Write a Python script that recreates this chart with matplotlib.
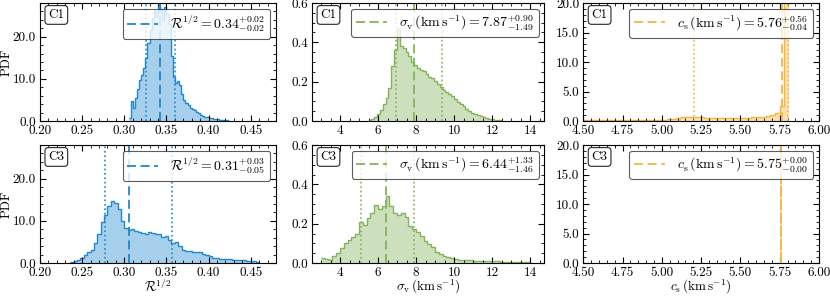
import numpy as np
import matplotlib
matplotlib.use("Agg")
import matplotlib.pyplot as plt
from matplotlib.ticker import MultipleLocator, FormatStrFormatter

plt.rcParams["font.family"] = "serif"
plt.rcParams["font.serif"] = ["cmr10", "DejaVu Serif"]
plt.rcParams["mathtext.fontset"] = "cm"
plt.rcParams["axes.formatter.use_mathtext"] = True
plt.rcParams["font.size"] = 9.5

# --- data ---
# R^(1/2), cloud C1
r_c1_edges = np.round(np.arange(0.305, 0.4251, 0.0025), 4)
r_c1_pdf = [0.8, 4.8, 3.0, 5.5, 7.5, 9.8, 11.0, 12.5, 15.0, 18.5, 21.5, 24.5,
            26.0, 25.0, 27.5, 26.5, 24.0, 27.0, 25.5, 23.0, 15.5, 10.5, 9.0, 9.6,
            8.5, 6.5, 5.0, 4.2, 3.8, 3.2, 2.9, 2.6, 2.2, 1.8, 1.4, 1.3,
            1.0, 0.9, 0.8, 0.7, 0.5, 0.5, 0.4, 0.3, 0.3, 0.2, 0.15, 0.1]
r_c1_stats = [0.342, 0.326, 0.360]  # median, low, high

# R^(1/2), cloud C3
r_c3_edges = np.round(np.arange(0.236, 0.4601, 0.004), 4)
r_c3_pdf = [0.3, 0.5, 0.7, 1.2, 2.0, 2.6, 3.1, 4.8, 7.0, 9.8, 11.5, 13.6,
            14.7, 14.2, 12.8, 10.0, 8.3, 7.9, 8.0, 7.7, 7.4, 7.1, 6.8, 7.4,
            7.2, 6.9, 7.0, 6.1, 6.4, 5.5, 4.8, 5.0, 4.0, 3.0, 2.9, 2.9,
            2.7, 2.6, 2.5, 2.2, 1.9, 1.6, 1.3, 1.1, 1.0, 0.95, 0.9, 0.85,
            0.8, 0.7, 0.6, 0.6, 0.5, 0.45, 0.4, 0.3]
r_c3_stats = [0.306, 0.2775, 0.3565]

# sigma_v, cloud C1
sv_c1_edges = np.round(np.arange(5.5, 12.551, 0.15), 3)
sv_c1_pdf = [0.003, 0.008, 0.02, 0.035, 0.056, 0.085, 0.115, 0.17, 0.28, 0.36,
             0.47, 0.38, 0.37, 0.35, 0.33, 0.30, 0.285, 0.27, 0.26, 0.255,
             0.24, 0.225, 0.22, 0.205, 0.19, 0.175, 0.16, 0.145, 0.135, 0.125,
             0.11, 0.095, 0.085, 0.075, 0.06, 0.05, 0.042, 0.035, 0.03, 0.025,
             0.018, 0.014, 0.011, 0.009, 0.007, 0.005, 0.004]
sv_c1_stats = [7.87, 6.97, 9.36]

# sigma_v, cloud C3
sv_c3_edges = np.round(np.arange(3.0, 14.01, 0.2), 2)
sv_c3_pdf = [0.024, 0.022, 0.015, 0.035, 0.05, 0.075, 0.1, 0.115, 0.132, 0.15,
             0.21, 0.195, 0.228, 0.255, 0.293, 0.275, 0.29, 0.34, 0.29, 0.255,
             0.245, 0.253, 0.232, 0.19, 0.175, 0.16, 0.135, 0.11, 0.095, 0.08,
             0.058, 0.045, 0.038, 0.03, 0.024, 0.02, 0.017, 0.015, 0.014, 0.013,
             0.012, 0.012, 0.011, 0.01, 0.009, 0.008, 0.008, 0.007, 0.006, 0.005,
             0.005, 0.004, 0.004, 0.003, 0.003]
sv_c3_stats = [6.44, 5.11, 7.90]

# c_s, cloud C1
cs_c1_edges = np.round(np.arange(4.49, 5.811, 0.03), 3)
cs_c1_pdf = [0.1, 0.1, 0.1, 0.1, 0.12, 0.12, 0.12, 0.12, 0.13, 0.13, 0.14,
             0.14, 0.15, 0.15, 0.16, 0.17, 0.2, 0.22, 0.3, 0.4, 0.5, 0.6,
             0.7, 0.68, 0.62, 0.6, 0.58, 0.55, 0.5, 0.48, 0.47, 0.48, 0.5,
             0.5, 0.52, 0.55, 0.6, 0.65, 0.75, 0.85, 1.0, 1.4, 2.5, 30.0]
cs_c1_stats = [5.767, 5.205, 5.80]

# c_s, cloud C3 (all mass in one narrow bin)
cs_c3_edges = [5.752, 5.764]
cs_c3_pdf = [60.0]
cs_c3_stats = [5.758, 5.758, 5.758]

blue = "#1f88cf"
green = "#84b35b"
orange = "#f5b540"

panels = [
    # row, col, edges, pdf, stats, colour, cloud, legend label
    (0, 0, r_c1_edges, r_c1_pdf, r_c1_stats, blue, "C1",
     r"$\mathcal{R}^{1/2} = 0.34^{+0.02}_{-0.02}$"),
    (0, 1, sv_c1_edges, sv_c1_pdf, sv_c1_stats, green, "C1",
     r"$\sigma_{\rm v}\,(\mathrm{km\,s^{-1}}) = 7.87^{+0.90}_{-1.49}$"),
    (0, 2, cs_c1_edges, cs_c1_pdf, cs_c1_stats, orange, "C1",
     r"$c_{\rm s}\,(\mathrm{km\,s^{-1}}) = 5.76^{+0.56}_{-0.04}$"),
    (1, 0, r_c3_edges, r_c3_pdf, r_c3_stats, blue, "C3",
     r"$\mathcal{R}^{1/2} = 0.31^{+0.03}_{-0.05}$"),
    (1, 1, sv_c3_edges, sv_c3_pdf, sv_c3_stats, green, "C3",
     r"$\sigma_{\rm v}\,(\mathrm{km\,s^{-1}}) = 6.44^{+1.33}_{-1.46}$"),
    (1, 2, cs_c3_edges, cs_c3_pdf, cs_c3_stats, orange, "C3",
     r"$c_{\rm s}\,(\mathrm{km\,s^{-1}}) = 5.75^{+0.00}_{-0.00}$"),
]

# per column: x limits, y limits, x major/minor, y major/minor, formats
col_setup = [
    dict(xlim=(0.2, 0.48), ylim=(0, 28), xmaj=0.05, xmin=0.01, ymaj=10, ymin=2,
         xfmt="%.2f", yfmt="%.1f", xlabel=r"$\mathcal{R}^{1/2}$"),
    dict(xlim=(2.54, 14.75), ylim=(0, 0.6), xmaj=2, xmin=0.5, ymaj=0.2, ymin=0.05,
         xfmt="%d", yfmt="%.1f", xlabel=r"$\sigma_{\rm v}\,(\mathrm{km\,s^{-1}})$"),
    dict(xlim=(4.5, 6.0), ylim=(0, 20), xmaj=0.25, xmin=0.05, ymaj=5, ymin=1,
         xfmt="%.2f", yfmt="%.1f", xlabel=r"$c_{\rm s}\,(\mathrm{km\,s^{-1}})$"),
]

col_left = [40 / 830, 312.3 / 830, 583.3 / 830]
col_width = [236 / 830, 232 / 830, 235.7 / 830]
row_bottom = [1 - 121 / 296, 1 - 263 / 296]
row_height = 118 / 296

fig = plt.figure(figsize=(8.3, 2.96), dpi=100)

for row, col, edges, pdf, stats, colour, cloud, label in panels:
    setup = col_setup[col]
    ax = fig.add_axes([col_left[col], row_bottom[row], col_width[col], row_height])

    ax.stairs(pdf, edges, fill=True, color=colour, alpha=0.4, lw=0)
    ax.stairs(pdf, edges, baseline=None, color=colour, lw=1.0)

    med, low, high = stats
    ax.axvline(med, color=colour, ls=(0, (5, 2.5)), lw=1.3, label=label)
    ax.axvline(low, color=colour, ls=":", lw=1.2)
    ax.axvline(high, color=colour, ls=":", lw=1.2)

    ax.set_xlim(*setup["xlim"])
    ax.set_ylim(*setup["ylim"])
    ax.xaxis.set_major_locator(MultipleLocator(setup["xmaj"]))
    ax.xaxis.set_minor_locator(MultipleLocator(setup["xmin"]))
    ax.yaxis.set_major_locator(MultipleLocator(setup["ymaj"]))
    ax.yaxis.set_minor_locator(MultipleLocator(setup["ymin"]))
    ax.xaxis.set_major_formatter(FormatStrFormatter(setup["xfmt"]))
    ax.yaxis.set_major_formatter(FormatStrFormatter(setup["yfmt"]))
    ax.tick_params(which="both", direction="in", top=True, right=True)
    ax.tick_params(which="major", length=4, width=0.8, pad=3)
    ax.tick_params(which="minor", length=2, width=0.6)

    if col == 0:
        ax.set_ylabel("PDF", labelpad=0)
    if row == 1:
        ax.set_xlabel(setup["xlabel"], labelpad=-1)

    ax.text(0.035, 0.95, cloud, transform=ax.transAxes, ha="left", va="top",
            bbox=dict(boxstyle="round,pad=0.25", fc="white", ec="0.15", lw=0.8))

    leg = ax.legend(loc="upper right", handlelength=2.2, framealpha=0.8,
                    edgecolor="0.2", fancybox=True, borderpad=0.35,
                    handletextpad=0.9, borderaxespad=0.4, fontsize=10)
    leg.get_frame().set_linewidth(0.8)

fig.savefig("out.png", dpi=100)
